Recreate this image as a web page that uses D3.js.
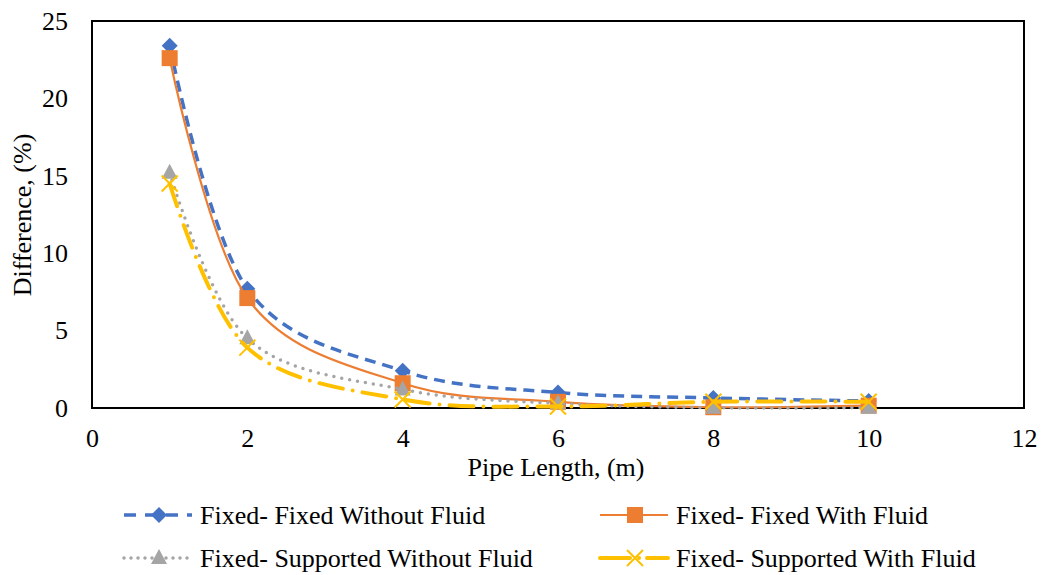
<!DOCTYPE html>
<html>
<head>
<meta charset="utf-8">
<script src="https://cdn.jsdelivr.net/npm/d3@7"></script>
<style>
  body { margin: 0; background: #fff; }
  text { font-family: "Liberation Serif", "Times New Roman", serif; fill: #000; }
</style>
</head>
<body>
<script>
const pipeLength = [1, 2, 4, 6, 8, 10];
const fixedFixedNoFluid = [23.4, 7.7, 2.4, 1.0, 0.65, 0.45];
const fixedFixedFluid = [22.6, 7.1, 1.6, 0.4, 0.05, 0.15];
const fixedSupportedNoFluid = [15.2, 4.5, 1.2, 0.3, 0.02, 0.02];
const fixedSupportedFluid = [14.5, 3.9, 0.55, 0.1, 0.4, 0.4];
const xTicks = [0, 2, 4, 6, 8, 10, 12];
const yTicks = [0, 5, 10, 15, 20, 25];

const series = [
  { name: "Fixed- Fixed Without Fluid", values: fixedFixedNoFluid, color: "#4472c4", width: 3.5, dash: "11,7", legendDash: "12,9", cap: "butt", marker: "diamond" },
  { name: "Fixed- Fixed With Fluid", values: fixedFixedFluid, color: "#ed7d31", width: 2.2, dash: null, legendDash: null, cap: "butt", marker: "square" },
  { name: "Fixed- Supported Without Fluid", values: fixedSupportedNoFluid, color: "#a5a5a5", width: 3.5, dash: "0,8", legendDash: "0,7", cap: "round", marker: "triangle" },
  { name: "Fixed- Supported With Fluid", values: fixedSupportedFluid, color: "#ffc000", width: 4, dash: "24,10,0,10", legendDash: "30,9,0,8", cap: "round", marker: "x" }
];

const W = 1043, H = 575;
const FS = "26px";
const svg = d3.select("body").append("svg").attr("width", W).attr("height", H);

const x = d3.scaleLinear().domain([0, 12]).range([92, 1024]);
const y = d3.scaleLinear().domain([0, 25]).range([408, 21]);

// axes: labels only, the frame is a rect
const xAxis = svg.append("g").attr("transform", "translate(0,408)")
  .call(d3.axisBottom(x).tickValues(xTicks).tickSize(0).tickPadding(21));
const yAxis = svg.append("g").attr("transform", "translate(92,0)")
  .call(d3.axisLeft(y).tickValues(yTicks).tickSize(0).tickPadding(24));
[xAxis, yAxis].forEach(a => {
  a.select(".domain").remove();
  a.selectAll("text").style("font-size", FS).style("font-family", "Liberation Serif");
});

svg.append("rect")
  .attr("x", x(0)).attr("y", y(25))
  .attr("width", x(12) - x(0)).attr("height", y(0) - y(25))
  .attr("fill", "none").attr("stroke", "#000").attr("stroke-width", 2);

svg.append("text").attr("x", 556).attr("y", 476).attr("text-anchor", "middle")
  .style("font-size", FS).text("Pipe Length, (m)");
svg.append("text").attr("transform", "translate(31,215) rotate(-90)").attr("text-anchor", "middle")
  .style("font-size", FS).text("Difference, (%)");

const line = d3.line().curve(d3.curveCatmullRom.alpha(0))
  .x(d => x(d[0])).y(d => y(d[1]));

function drawMarker(g, type, color, cx, cy) {
  if (type === "diamond") {
    g.append("path").attr("d", `M${cx},${cy - 8}L${cx + 8},${cy}L${cx},${cy + 8}L${cx - 8},${cy}Z`).attr("fill", color);
  } else if (type === "square") {
    g.append("rect").attr("x", cx - 8).attr("y", cy - 8).attr("width", 16).attr("height", 16).attr("fill", color);
  } else if (type === "triangle") {
    g.append("path").attr("d", `M${cx},${cy - 9}L${cx + 8},${cy + 6}L${cx - 8},${cy + 6}Z`).attr("fill", color);
  } else {
    g.append("path").attr("d", `M${cx - 8},${cy - 8}L${cx + 8},${cy + 8}M${cx + 8},${cy - 8}L${cx - 8},${cy + 8}`)
      .attr("stroke", color).attr("stroke-width", 2).attr("fill", "none");
  }
}

const plot = svg.append("g");
series.forEach(s => {
  const pts = pipeLength.map((p, i) => [p, s.values[i]]);
  const g = plot.append("g");
  g.append("path").attr("d", line(pts)).attr("fill", "none")
    .attr("stroke", s.color).attr("stroke-width", s.width)
    .attr("stroke-dasharray", s.dash).attr("stroke-linecap", s.cap);
  pts.forEach(p => drawMarker(g, s.marker, s.color, x(p[0]), y(p[1])));
});

// legend, two columns by two rows
const legendCols = [124, 600];
const legendRows = [515, 558];
series.forEach((s, i) => {
  const lx = legendCols[i % 2], ly = legendRows[Math.floor(i / 2)];
  const g = svg.append("g");
  g.append("line").attr("x1", lx).attr("x2", lx + 68).attr("y1", ly).attr("y2", ly)
    .attr("stroke", s.color).attr("stroke-width", s.width)
    .attr("stroke-dasharray", s.legendDash).attr("stroke-linecap", s.cap);
  drawMarker(g, s.marker, s.color, lx + 35, ly);
  g.append("text").attr("x", lx + 76).attr("y", ly + 9).style("font-size", FS).text(s.name);
});
</script>
</body>
</html>
